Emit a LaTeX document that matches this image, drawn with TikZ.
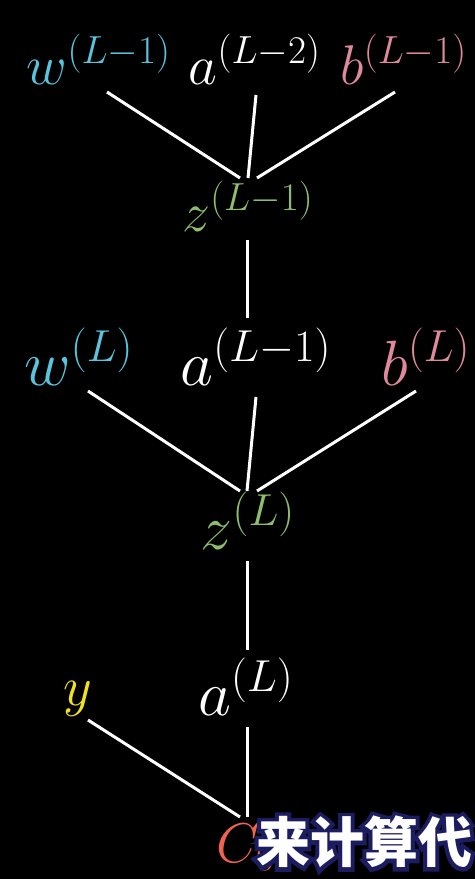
\RequirePackage{fix-cm}
\documentclass[tikz,border=0pt]{standalone}
\usepackage{xcolor}
\usepackage{amsmath}
\usepackage{fontspec}
\usepackage{tikz}
\newfontfamily\cjk{Noto Sans CJK SC}
\definecolor{wblue}{HTML}{58C4DD}
\definecolor{bpink}{HTML}{E0899B}
\definecolor{zgreen}{HTML}{8DBE6A}
\definecolor{yyellow}{HTML}{F2E21B}
\definecolor{cred}{HTML}{F0644E}
% stroked glyphs for the subtitle rim
\newcommand\rimtext[1]{\special{pdf:literal direct 1 Tr 4 w 0.11 0.11 0.38 RG}#1\special{pdf:literal direct 0 Tr}}

\begin{document}
\begin{tikzpicture}[x=0.5pt,y=-0.5pt,
    term/.style={anchor=base,inner sep=0pt,text=white,font=\fontsize{28}{34}\selectfont},
    big/.style={font=\fontsize{32}{38}\selectfont},
    link/.style={white,line width=1.5pt},
    subtitle/.style={inner sep=0pt,font=\cjk\bfseries\fontsize{27}{30}\selectfont}]
    % Background
    \fill[black] (0,0) rectangle (475,879);
    % Layer L-1
    \node[term,text=wblue]  (w1) at (99,84)  {$w^{(L-1)}$};
    \node[term]             (a2) at (255,84) {$a^{(L-2)}$};
    \node[term,text=bpink]  (b1) at (404,84) {$b^{(L-1)}$};
    \node[term,text=zgreen] (z1) at (248,231) {$z^{(L-1)}$};
    \draw[link] ([shift={(8,8)}]w1.base)   -- ([shift={(-8,-53)}]z1.base);
    \draw[link] ([shift={(1,11)}]a2.base)  -- ([shift={(0,-53)}]z1.base);
    \draw[link] ([shift={(-9,8)}]b1.base)  -- ([shift={(9,-53)}]z1.base);
    % Layer L
    \node[term,big,text=wblue]  (w2) at (79,385)  {$w^{(L)}$};
    \node[term,big]             (a1) at (256,385) {$a^{(L-1)}$};
    \node[term,big,text=bpink]  (b2) at (426,385) {$b^{(L)}$};
    \node[term,big,text=zgreen] (z2) at (248,549) {$z^{(L)}$};
    \draw[link] ([shift={(-1,9)}]z1.base)  -- ([shift={(-9,-67)}]a1.base);
    \draw[link] ([shift={(9,6)}]w2.base)   -- ([shift={(-8,-58)}]z2.base);
    \draw[link] ([shift={(0,12)}]a1.base)  -- ([shift={(-1,-58)}]z2.base);
    \draw[link] ([shift={(-10,6)}]b2.base) -- ([shift={(9,-58)}]z2.base);
    % Cost
    \node[term,big]          (a0) at (246,715) {$a^{(L)}$};
    \node[term,text=yyellow] (y)  at (78,705)  {$y$};
    \node[term,text=cred]    (c0) at (246,862) {$C_0$};
    \draw[link] ([shift={(-1,12)}]z2.base) -- ([shift={(1,-65)}]a0.base);
    \draw[link] ([shift={(10,15)}]y.base)  -- ([shift={(-6,-45)}]c0.base);
    \draw[link] ([shift={(1,12)}]a0.base)  -- ([shift={(1,-45)}]c0.base);
    % Subtitle
    \node[subtitle,text=white] (cap) at (364,842) {\rimtext{来计算代}};
    \node[subtitle,text=white] at (cap) {来计算代};
\end{tikzpicture}
\end{document}
